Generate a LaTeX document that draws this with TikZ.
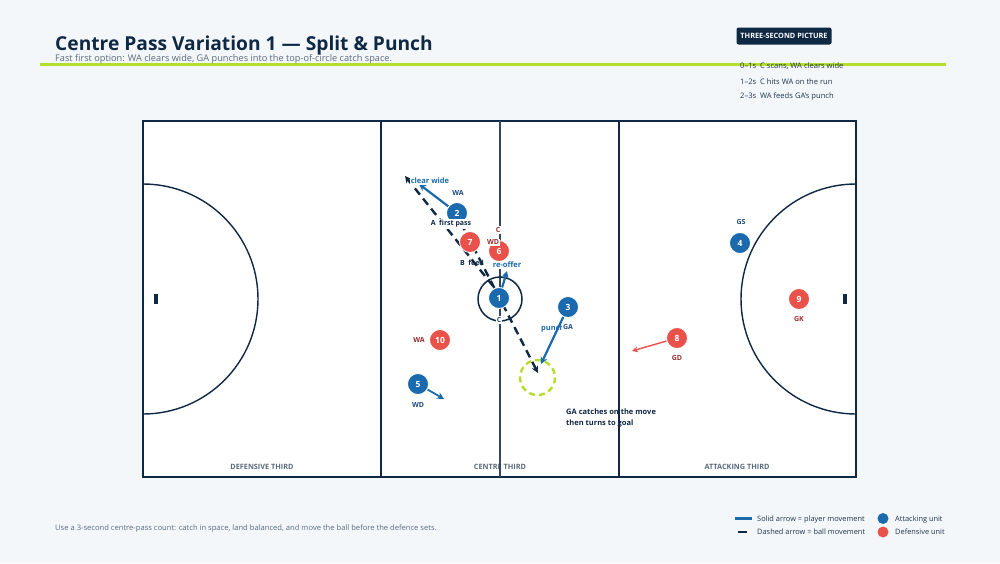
\documentclass[tikz,border=0pt]{standalone}
\usepackage{fontspec}
\setmainfont{Open Sans}
\usetikzlibrary{arrows.meta, calc}

\definecolor{pagebg}{HTML}{F4F7FA}
\definecolor{navy}{HTML}{0F2844}
\definecolor{attblue}{HTML}{1B6AAE}
\definecolor{defred}{HTML}{E8524A}
\definecolor{lime}{HTML}{B5DD2B}
\definecolor{greytext}{HTML}{5B6B7C}
\definecolor{bluelab}{HTML}{1D4B7C}
\definecolor{redlab}{HTML}{9A2E2E}

\pgfdeclarelayer{court}
\pgfdeclarelayer{paths}
\pgfsetlayers{court,paths,main}

\tikzset{
  attplayer/.style={circle, fill=attblue, draw=white, line width=0.8pt, minimum size=21pt, inner sep=0pt,
    text=white, font=\fontsize{8.5}{8}\selectfont\bfseries},
  defplayer/.style={attplayer, fill=defred},
  attlab/.style={text=bluelab, fill=white, inner sep=1pt, font=\fontsize{7}{7}\selectfont\bfseries},
  deflab/.style={attlab, text=redlab},
  runarrow/.style={attblue, line width=2.2pt, -{Stealth[length=7pt, width=7pt]}},
  ballarrow/.style={navy, line width=2.4pt, dash pattern=on 8pt off 5pt, -{Stealth[length=7pt, width=7pt]}},
  movetext/.style={inner sep=1pt, font=\fontsize{7.5}{8}\selectfont\bfseries},
  thirdlab/.style={text=greytext, inner sep=0pt, font=\fontsize{7.3}{7}\selectfont\bfseries, anchor=base},
  sidetext/.style={text=navy!80!greytext, inner sep=0pt, font=\fontsize{7.6}{8}\selectfont, anchor=base west}
}

\begin{document}
\begin{tikzpicture}[x=1pt, y=-1pt]
\useasboundingbox (0,0) rectangle (1000,563);

%% court paramaters
\def\courtL{143}
\def\courtR{856}
\def\courtT{121}
\def\courtB{477}
\def\midY{299}

\begin{pgfonlayer}{court}
%% page
\fill[pagebg] (0,0) rectangle (1000,563);

%% title block
\draw[lime, line width=3pt] (40,64.5) -- (946,64.5);
\node[anchor=base west, inner sep=0pt, text=navy, font=\fontsize{19.2}{20}\selectfont\bfseries] (title) at (55,50)
  {Centre Pass Variation 1 — Split \& Punch};
\node[anchor=base west, inner sep=0pt, text=greytext, font=\fontsize{9.2}{9}\selectfont] (subtitle) at (55,61.5)
  {Fast first option: WA clears wide, GA punches into the top-of-circle catch space.};

%% three-second picture
\node[fill=navy, rounded corners=2pt, text=white, font=\fontsize{7.3}{7}\selectfont\bfseries,
  minimum width=95pt, minimum height=17pt, inner sep=2pt] (tsbox) at (784,36) {THREE-SECOND PICTURE};
\node[sidetext] (ts1) at (740,68) {0–1s\enspace C scans, WA clears wide};
\node[sidetext] (ts2) at (740,84) {1–2s\enspace C hits WA on the run};
\node[sidetext] (ts3) at (740,98) {2–3s\enspace WA feeds GA’s punch};

%% court
\draw[navy, line width=2.2pt, fill=white] (\courtL,\courtT) rectangle (\courtR,\courtB);
\draw[navy, line width=1.6pt] (381,\courtT) -- (381,\courtB);
\draw[navy, line width=1.6pt] (619,\courtT) -- (619,\courtB);
\draw[navy, line width=1.4pt] (\courtL,\midY) ++(-90:115) arc (-90:90:115);
\draw[navy, line width=1.4pt] (\courtR,\midY) ++(-90:115) arc (-90:-270:115);
\fill[navy] (153.5,\midY-5) rectangle (157.5,\midY+5);
\fill[navy] (842.5,\midY-5) rectangle (846.5,\midY+5);

\node[thirdlab] (defthird) at (262,469) {DEFENSIVE THIRD};
\node[thirdlab] (centhird) at (500,469) {CENTRE THIRD};
\node[thirdlab] (attthird) at (737,469) {ATTACKING THIRD};

\node[anchor=base west, inner sep=0pt, text=navy, font=\fontsize{7.5}{8}\selectfont\bfseries] (catchnote) at (566,414)
  {GA catches on the move};
\node[anchor=base west, inner sep=0pt, text=navy, font=\fontsize{7.5}{8}\selectfont\bfseries] (turnnote) at (566,425)
  {then turns to goal};

%% centre line and centre circle
\draw[navy!85, line width=1.3pt] (500,\courtT) -- (500,\courtB);
\draw[navy, line width=1.5pt] (500,\midY) circle (22);

%% catch space
\draw[lime, line width=2.4pt, dash pattern=on 6pt off 4pt] (537.5,377.5) circle (17.5);
\end{pgfonlayer}

%% players
\node[attplayer] (p1) at (499,298) {1};
\node[attplayer] (p2) at (457,213) {2};
\node[attplayer] (p3) at (568,307) {3};
\node[attplayer] (p4) at (740,243) {4};
\node[attplayer] (p5) at (418,384) {5};
\node[defplayer] (p6) at (499,251) {6};
\node[defplayer] (p7) at (470,242) {7};
\node[defplayer] (p8) at (677,338) {8};
\node[defplayer] (p9) at (799,299) {9};
\node[defplayer] (p10) at (440,340) {10};

%% free ends of the movements
\coordinate (widespot) at (405,176);
\coordinate (wideend) at (419,184);
\coordinate (catchspot) at (538,373);
\coordinate (punchend) at (541,364);
\coordinate (reofferend) at (507,271);
\coordinate (wdend) at (444,399);
\coordinate (gdend) at (632,351);

\begin{pgfonlayer}{paths}
%% ball movement
\draw[ballarrow] ($(p1)+(-6,-12)$) -- (widespot);
\draw[ballarrow] ($(p2)+(4,10)$) -- (catchspot);

%% player movement
\draw[runarrow] (p2) -- (wideend);
\draw[runarrow] (p3) -- (punchend);
\draw[runarrow] (p1) -- (reofferend);
\draw[runarrow, line width=1.8pt] (p5) -- (wdend);
\draw[defred, line width=1.4pt, -{Stealth[length=6pt, width=6pt]}] (p8) -- (gdend);
\end{pgfonlayer}

%% movement labels
\node[movetext, text=attblue, fill=white] (clearlab) at (430,181) {clear wide};
\node[movetext, text=navy, fill=white, font=\fontsize{7}{8}\selectfont\bfseries] (passlab) at (451,224) {A\enspace first pass};
\node[movetext, text=navy, font=\fontsize{7}{8}\selectfont\bfseries] (feedlab) at (472,263) {B\enspace feed};
\node[movetext, text=attblue, fill=white] (reofflab) at (507,265) {re-offer};
\node[movetext, text=attblue, anchor=west] (punchlab) at (540,328.5) {punch};

%% position labels
\node[attlab] (lab1) at (499,320) {C};
\node[attlab] (lab2) at (458,193) {WA};
\node[attlab] (lab3) at (568,327) {GA};
\node[attlab] (lab4) at (741,222) {GS};
\node[attlab] (lab5) at (418,405) {WD};
\node[deflab] (lab6) at (498,230) {C};
\node[deflab] (lab7) at (493,242) {WD};
\node[deflab] (lab8) at (677,358) {GD};
\node[deflab] (lab9) at (799,319) {GK};
\node[deflab] (lab10) at (419,340) {WA};

%% footer
\node[anchor=base west, inner sep=0pt, text=greytext, font=\fontsize{7.6}{8}\selectfont] (footnote) at (55,530)
  {Use a 3-second centre-pass count: catch in space, land balanced, and move the ball before the defence sets.};

%% legend
\coordinate (legrunA) at (735,518.5);
\coordinate (legrunB) at (752,518.5);
\coordinate (legballA) at (738,532);
\coordinate (legballB) at (747,532);
\draw[attblue, line width=2.4pt] (legrunA) -- (legrunB);
\draw[navy, line width=2.4pt] (legballA) -- (legballB);
\node[sidetext, font=\fontsize{7.4}{8}\selectfont] (legrun) at (757,521) {Solid arrow = player movement};
\node[sidetext, font=\fontsize{7.4}{8}\selectfont] (legball) at (757,534.5) {Dashed arrow = ball movement};
\node[circle, fill=attblue, minimum size=11pt, inner sep=0pt] (legatt) at (883,518.5) {};
\node[circle, fill=defred, minimum size=11pt, inner sep=0pt] (legdef) at (883,532) {};
\node[sidetext, font=\fontsize{7.4}{8}\selectfont] (legattlab) at (895,521) {Attacking unit};
\node[sidetext, font=\fontsize{7.4}{8}\selectfont] (legdeflab) at (895,534.5) {Defensive unit};

\end{tikzpicture}
\end{document}
